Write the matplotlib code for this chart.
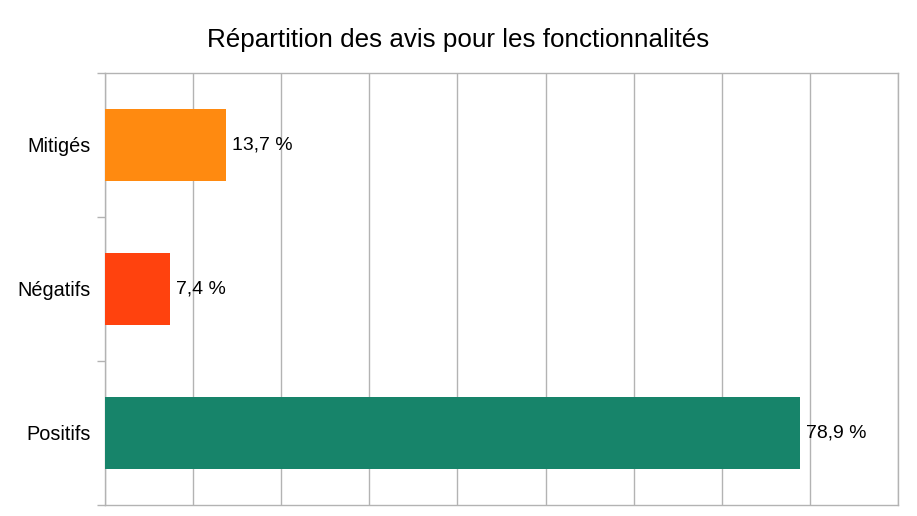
import matplotlib
matplotlib.use('Agg')
import matplotlib.pyplot as plt
import numpy as np

plt.rcParams['font.family'] = ['Liberation Sans', 'DejaVu Sans']

# Data (bottom to top)
categories = ['Positifs', 'Négatifs', 'Mitigés']
values = [78.9, 7.4, 13.7]
colors = ['#17846a', '#ff420e', '#ff8a10']

fig = plt.figure(figsize=(9.17, 5.16), dpi=100)
ax = fig.add_axes([105 / 917, 11 / 516, 793 / 917, 432 / 516])

y = np.arange(len(categories))
bars = ax.barh(y, values, height=0.5, color=colors, zorder=3)

# value labels
for b, v in zip(bars, values):
    ax.text(b.get_width() + 0.7, b.get_y() + b.get_height() / 2,
            f'{v:.1f} %'.replace('.', ','), va='center', ha='left',
            fontsize=14, color='black', zorder=4)

ax.set_xlim(0, 90)
ax.set_ylim(-0.5, 2.5)
ax.set_xticks(np.arange(0, 91, 10))
ax.tick_params(axis='x', length=0, labelbottom=False)
ax.grid(axis='x', color='#b3b3b3', linewidth=1, zorder=0)

ax.set_yticks(y)
ax.set_yticklabels(categories, fontsize=14.3)
ax.tick_params(axis='y', which='major', length=0, pad=10)
ax.set_yticks(np.arange(-0.5, 3, 1), minor=True)
ax.tick_params(axis='y', which='minor', length=6, color='#b3b3b3', width=1)

for s in ax.spines.values():
    s.set_color('#b3b3b3')
    s.set_linewidth(1)

fig.suptitle('Répartition des avis pour les fonctionnalités', y=1 - 40 / 516,
             va='center', fontsize=18.7)

fig.savefig('out.png', dpi=100, facecolor='white')
